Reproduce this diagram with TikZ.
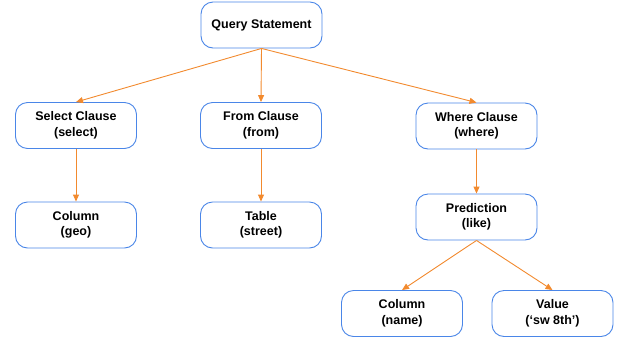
\documentclass[tikz,border=0pt]{standalone}
\usepackage{fontspec}
\setmainfont{Liberation Sans}
\usetikzlibrary{arrows.meta}
\definecolor{boxblue}{HTML}{4A86E8}
\definecolor{arrorange}{HTML}{F28A2E}
\begin{document}
\begin{tikzpicture}[x=1pt,y=-1pt,
  treebox/.style={draw=boxblue, line width=0.9pt, rounded corners=12pt, fill=white,
    minimum width=121pt, minimum height=46pt, align=center,
    font=\fontsize{12.5}{15.5}\selectfont\bfseries, inner sep=0pt},
  link/.style={draw=arrorange, line width=0.9pt, -{Triangle[length=7pt,width=6pt]}}]
\useasboundingbox (0,0) rectangle (618,341);
\node[treebox] (q) at (261.5,25) {Query Statement};
\node[treebox] (s) at (76,125.5) {Select Clause\\(select)};
\node[treebox] (f) at (261,125.5) {From Clause\\(from)};
\node[treebox] (w) at (476.5,126) {Where Clause\\(where)};
\node[treebox] (cg) at (76,225) {Column\\(geo)};
\node[treebox] (t) at (261,225) {Table\\(street)};
\node[treebox] (p) at (476.5,217) {Prediction\\(like)};
\node[treebox] (cn) at (402,313.5) {Column\\(name)};
\node[treebox] (v) at (552.5,313.5) {Value\\(‘sw 8th’)};
\draw[link] (q.south) -- (s.north);
\draw[link] (q.south) -- (f.north);
\draw[link] (q.south) -- (w.north);
\draw[link] (s.south) -- (cg.north);
\draw[link] (f.south) -- (t.north);
\draw[link] (w.south) -- (p.north);
\draw[link] (p.south) -- (cn.north);
\draw[link] (p.south) -- (v.north);
\end{tikzpicture}
\end{document}
